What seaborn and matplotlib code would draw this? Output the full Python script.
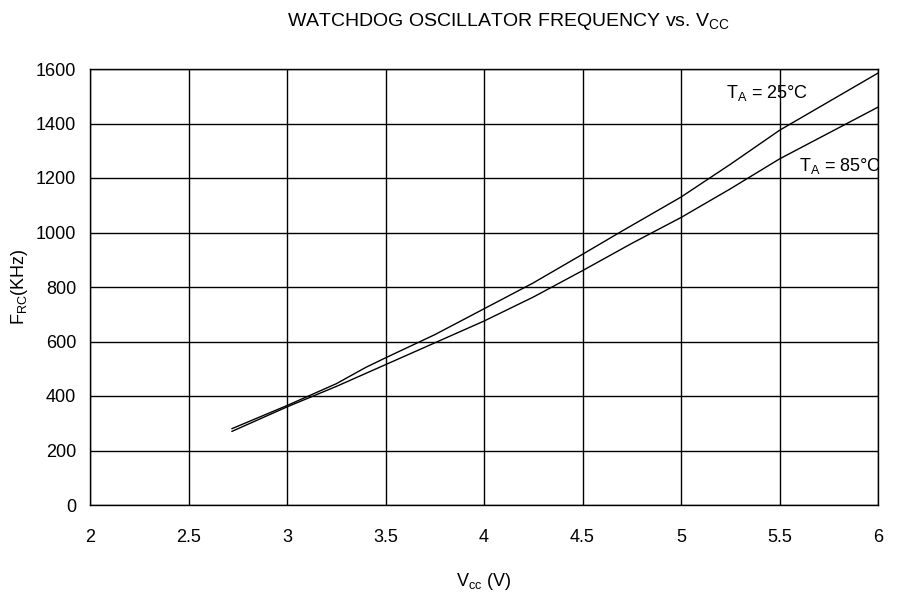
import matplotlib
matplotlib.use("Agg")
import matplotlib.pyplot as plt
import seaborn as sns
import pandas as pd

vcc_25 = [2.72, 3.0, 3.25, 3.4, 3.5, 3.75, 4.0, 4.25, 4.5, 4.7, 5.0, 5.25, 5.5, 5.75, 6.0]
f_25 = [280, 365, 445, 505, 540, 625, 720, 815, 920, 1005, 1130, 1250, 1375, 1480, 1585]
vcc_85 = [2.72, 3.0, 3.25, 3.5, 3.75, 4.0, 4.25, 4.5, 4.75, 5.0, 5.25, 5.5, 5.75, 6.0]
f_85 = [270, 360, 435, 515, 595, 675, 763, 860, 960, 1055, 1160, 1270, 1365, 1460]
x_ticks = [2, 2.5, 3, 3.5, 4, 4.5, 5, 5.5, 6]
x_tick_labels = ["2", "2.5", "3", "3.5", "4", "4.5", "5", "5.5", "6"]
y_ticks = [0, 200, 400, 600, 800, 1000, 1200, 1400, 1600]

sns.set_theme(style="white")
plt.rcParams['font.family'] = ['Liberation Sans', 'DejaVu Sans']
plt.rcParams['mathtext.fontset'] = 'custom'
plt.rcParams['mathtext.rm'] = 'Liberation Sans'
plt.rcParams['mathtext.it'] = 'Liberation Sans'
plt.rcParams['text.color'] = 'black'
plt.rcParams['axes.labelcolor'] = 'black'

df = pd.concat([
    pd.DataFrame({"V": vcc_25, "F": f_25, "T": "25"}),
    pd.DataFrame({"V": vcc_85, "F": f_85, "T": "85"}),
])

fig = plt.figure(figsize=(8.98, 5.97), dpi=100)
ax = fig.add_axes([90/898, 1 - 505/597, (878-90)/898, (505-69)/597])
sns.lineplot(data=df, x="V", y="F", units="T", estimator=None, color="black",
             linewidth=1.0, ax=ax, legend=False, sort=False)

ax.set_xlim(2, 6)
ax.set_ylim(0, 1600)
ax.set_xticks(x_ticks)
ax.set_xticklabels(x_tick_labels)
ax.set_yticks(y_ticks)
ax.grid(True, color="black", linewidth=1.0)
for s in ax.spines.values():
    s.set_color("black")
    s.set_linewidth(1.0)
ax.tick_params(axis="y", labelsize=13, colors="black", length=0, pad=10)
ax.tick_params(axis="x", labelsize=13, colors="black", length=0, pad=17)

ax.set_xlabel(r"V$_{\rm cc}$ (V)", fontsize=13, labelpad=18)
ax.set_ylabel(r"F$_{\rm RC}$(KHz)", fontsize=13, labelpad=4)
fig.text(508/898, 1 - 22/597, r"WATCHDOG OSCILLATOR FREQUENCY vs. V$_{\rm CC}$",
         ha="center", va="center", fontsize=14)

ax.text(5.23, 1512, r"T$_{\rm A}$ = 25°C", fontsize=13, ha="left", va="center")
ax.text(5.6, 1245, r"T$_{\rm A}$ = 85°C", fontsize=13, ha="left", va="center")

fig.savefig("out.png", dpi=100, facecolor="white")
